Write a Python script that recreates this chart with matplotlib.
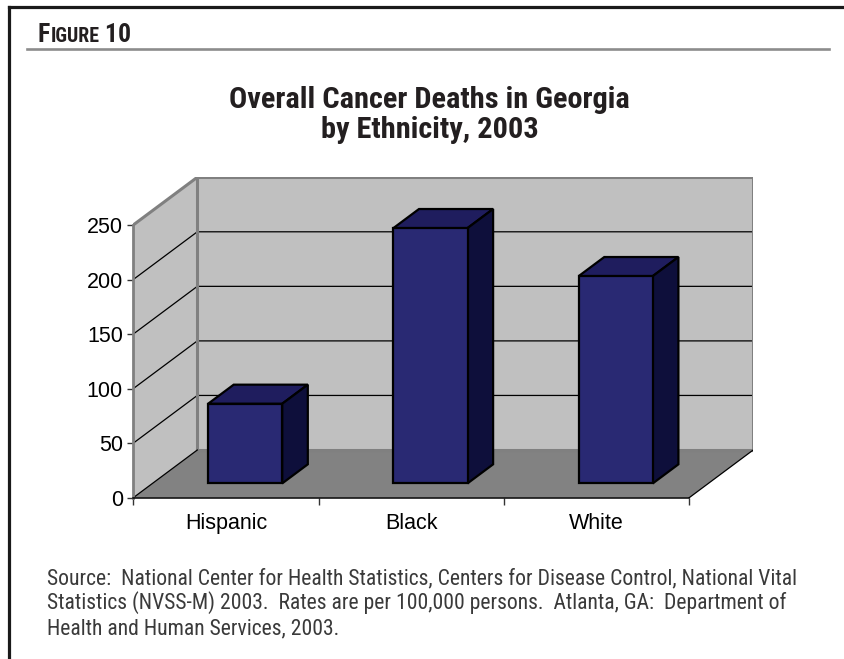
import matplotlib.pyplot as plt
from matplotlib.patches import Polygon

# Age-adjusted cancer death rates per 100,000, Georgia 2003
CATEGORIES = ["Hispanic", "Black", "White"]
DEATH_RATES = [73, 234, 190]
Y_TICKS = [0, 50, 100, 150, 200, 250]
Y_MAX = 250

FIG_LABEL = ("F", "IGURE", " 10")
TITLE_LINES = ["Overall Cancer Deaths in Georgia", "by Ethnicity, 2003"]
SOURCE_LINES = [
    "Source:  National Center for Health Statistics, Centers for Disease Control, National Vital",
    "Statistics (NVSS-M) 2003.  Rates are per 100,000 persons.  Atlanta, GA:  Department of",
    "Health and Human Services, 2003.",
]

W, H = 845, 659
ORIGIN_PX = (133.3, 497.7)   # front-left corner of the floor
CAT_PX = 185.3               # pixels per category on the front plane
UNIT_PX = 1.091              # pixels per unit of rate
DEPTH_PX = (64.0, 47.7)      # oblique shift from front plane to back wall
DX = DEPTH_PX[0] / CAT_PX
DY = DEPTH_PX[1] / UNIT_PX
BAR_W = 0.4
BAR_D = (0.3, 0.7)           # bar front/back as a fraction of floor depth

WALL = "#c0c0c0"
FLOOR = "#828282"
EDGE = "#808080"
BAR_FRONT = "#292973"
BAR_TOP = "#1f1d5e"
BAR_SIDE = "#0e0f3b"

NARROW = ["Roboto Condensed", "DejaVu Sans"]
PLAIN = ["Liberation Sans", "DejaVu Sans"]


def proj(x, v, d):
    """Oblique projection of (category x, value v, depth d) onto the axes."""
    return x + d * DX, v + d * DY


fig = plt.figure(figsize=(W / 100, H / 100), dpi=100)

# page furniture in pixel coordinates
deco = fig.add_axes([0, 0, 1, 1])
deco.set_xlim(0, W)
deco.set_ylim(H, 0)
deco.axis("off")
deco.plot([9, 9], [H, 7], color="#1a1a1a", lw=2.3, solid_capstyle="projecting")
deco.plot([9, W], [7, 7], color="#1a1a1a", lw=2.3, solid_capstyle="projecting")
deco.plot([27, 829], [48.5, 48.5], color="#8c8c8c", lw=1.9)

# small-caps label: each piece starts where the previous one ends
fig.canvas.draw()
renderer = fig.canvas.get_renderer()
x = 38
for part, size in zip(FIG_LABEL, (18.5, 14.3, 18.5)):
    t = deco.text(x, 42.5, part, fontsize=size, fontweight="bold", family=NARROW,
                  fontstretch="condensed", color="#231f20", va="baseline", ha="left")
    bb = t.get_window_extent(renderer)
    x = deco.transData.inverted().transform((bb.x1, bb.y0))[0]

for line, base in zip(TITLE_LINES, (107.5, 138.5)):
    deco.text(429.5, base, line, fontsize=21.9, fontweight="bold", family=NARROW,
              fontstretch="condensed", color="#231f20", ha="center", va="baseline")

for line, base in zip(SOURCE_LINES, (584, 609, 634)):
    deco.text(47, base, line, fontsize=15.55, family=NARROW, fontstretch="condensed",
              color="#3a3a3a", ha="left", va="baseline")

# chart axes: x in categories, y in rate units on the front plane
n = len(CATEGORIES)
ax = fig.add_axes([
    ORIGIN_PX[0] / W,
    (H - ORIGIN_PX[1]) / H,
    (n + DX) * CAT_PX / W,
    (Y_MAX + DY) * UNIT_PX / H,
])
ax.set_xlim(0, n + DX)
ax.set_ylim(0, Y_MAX + DY)
ax.patch.set_visible(False)

# walls and floor
ax.add_patch(Polygon([proj(0, 0, 0), proj(0, Y_MAX, 0), proj(0, Y_MAX, 1), proj(0, 0, 1)],
                     closed=True, fc=WALL, ec="none", zorder=1))
ax.add_patch(Polygon([proj(0, 0, 1), proj(n, 0, 1), proj(n, Y_MAX, 1), proj(0, Y_MAX, 1)],
                     closed=True, fc=WALL, ec="none", zorder=1))
ax.add_patch(Polygon([proj(0, 0, 0), proj(n, 0, 0), proj(n, 0, 1), proj(0, 0, 1)],
                     closed=True, fc=FLOOR, ec="none", zorder=1))

# gridlines across the side and back walls
for v in Y_TICKS[1:-1]:
    pts = [proj(0, v, 0), proj(0, v, 1), proj(n, v, 1)]
    ax.plot([p[0] for p in pts], [p[1] for p in pts], color="black", lw=0.9, zorder=1.5)

# wall borders
for a, b in [((0, Y_MAX, 0), (0, Y_MAX, 1)), ((0, Y_MAX, 1), (n, Y_MAX, 1)),
             ((n, Y_MAX, 1), (n, 0, 1)), ((n, 0, 1), (0, 0, 1)), ((0, 0, 1), (0, Y_MAX, 1))]:
    p, q = proj(*a), proj(*b)
    ax.plot([p[0], q[0]], [p[1], q[1]], color=EDGE, lw=2.2, zorder=1.6,
            solid_capstyle="projecting")

# floor edges running into depth
for cx in (0, n):
    p, q = proj(cx, 0, 0), proj(cx, 0, 1)
    ax.plot([p[0], q[0]], [p[1], q[1]], color="black", lw=0.9, zorder=1.7)

# bars: front faces from the axes, top and side faces by projection
x_left = [i + (1 - BAR_W) / 2 for i in range(n)]
front_x = [xl + BAR_D[0] * DX for xl in x_left]
ax.bar(front_x, DEATH_RATES, width=BAR_W, bottom=BAR_D[0] * DY, align="edge",
       color=BAR_FRONT, edgecolor="black", lw=1.6, zorder=5)
for xl, v in zip(x_left, DEATH_RATES):
    top = [proj(xl, v, BAR_D[0]), proj(xl + BAR_W, v, BAR_D[0]),
           proj(xl + BAR_W, v, BAR_D[1]), proj(xl, v, BAR_D[1])]
    side = [proj(xl + BAR_W, 0, BAR_D[0]), proj(xl + BAR_W, 0, BAR_D[1]),
            proj(xl + BAR_W, v, BAR_D[1]), proj(xl + BAR_W, v, BAR_D[0])]
    ax.add_patch(Polygon(top, closed=True, fc=BAR_TOP, ec="black", lw=1.6,
                         joinstyle="miter", zorder=4))
    ax.add_patch(Polygon(side, closed=True, fc=BAR_SIDE, ec="black", lw=1.6,
                         joinstyle="miter", zorder=4))

# axes lines and ticks
for s in ("top", "right"):
    ax.spines[s].set_visible(False)
ax.spines["left"].set_bounds(0, Y_MAX)
ax.spines["left"].set_color(EDGE)
ax.spines["left"].set_linewidth(2.0)
ax.spines["bottom"].set_bounds(0, n)
ax.spines["bottom"].set_color("black")
ax.spines["bottom"].set_linewidth(1.1)
ax.spines["left"].set_zorder(3)
ax.spines["bottom"].set_zorder(3)

ax.set_yticks(Y_TICKS)
ax.set_yticklabels([str(v) for v in Y_TICKS], family=PLAIN, fontsize=15.5)
ax.tick_params(axis="y", direction="out", length=4.5, width=1, color="#333333",
               pad=3, labelcolor="black")

ax.set_xticks(range(n + 1))
ax.set_xticklabels([])
ax.set_xticks([i + 0.5 for i in range(n)], minor=True)
ax.set_xticklabels(CATEGORIES, minor=True, family=PLAIN, fontsize=15.5)
ax.tick_params(axis="x", which="major", direction="out", length=5, width=1,
               color="#333333")
ax.tick_params(axis="x", which="minor", length=0, pad=11, labelcolor="black")

fig.savefig("out.png", dpi=100)
